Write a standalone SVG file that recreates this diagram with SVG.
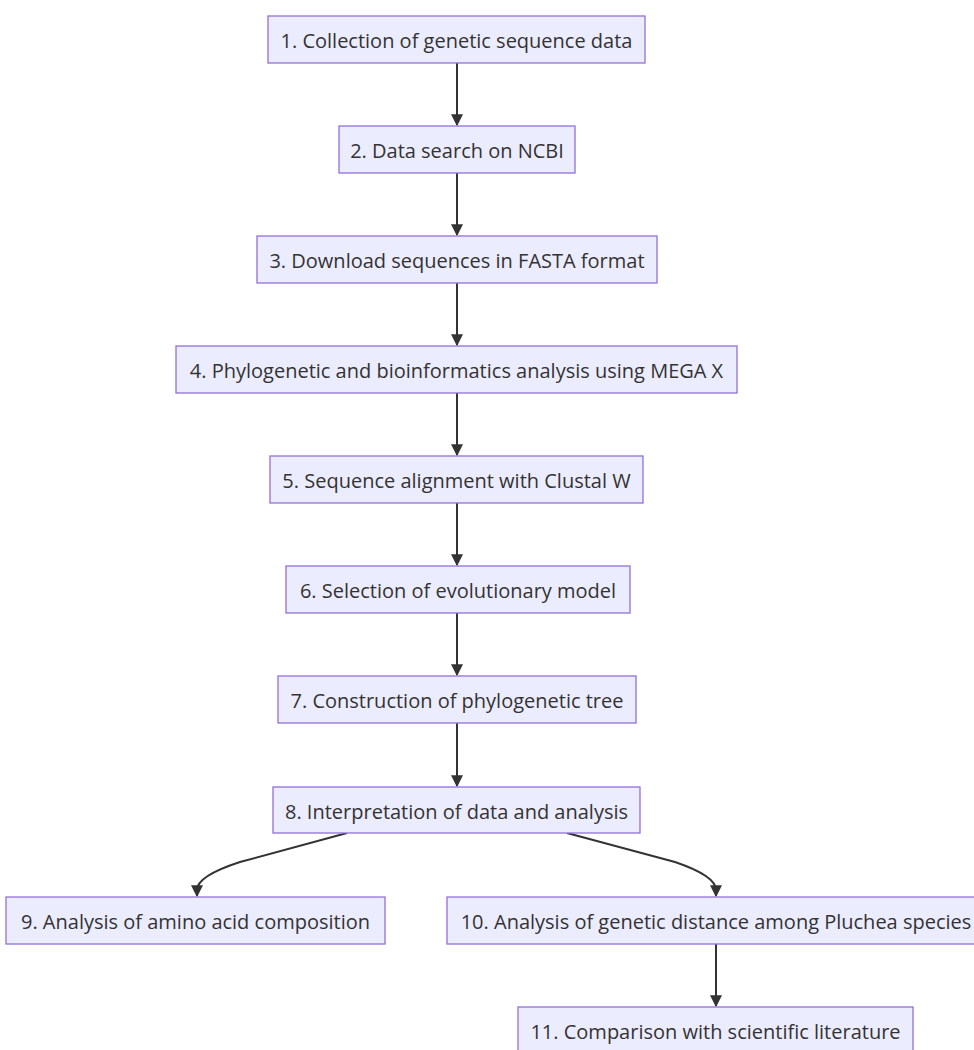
<svg xmlns="http://www.w3.org/2000/svg" width="974" height="1050" viewBox="0 0 974 1050">
<style>
.n rect{fill:#ECECFF;stroke:#9370DB;stroke-width:1.3}
.n text{font-family:"Open Sans","Noto Sans",sans-serif;font-size:20px;fill:#333;text-anchor:middle;dominant-baseline:central}
.e path{fill:none;stroke:#333;stroke-width:2}
</style>
<defs>
<marker id="ah" viewBox="0 0 10 10" refX="9" refY="5" markerWidth="12" markerHeight="12" markerUnits="userSpaceOnUse" orient="auto">
<path d="M0,0 L10,5 L0,10 z" fill="#333"/>
</marker>
</defs>
<rect width="974" height="1050" fill="#fff"/>
<g class="e">
<path d="M457,63 V125" marker-end="url(#ah)"/>
<path d="M457,173 V235" marker-end="url(#ah)"/>
<path d="M457,283 V345" marker-end="url(#ah)"/>
<path d="M457,393 V455" marker-end="url(#ah)"/>
<path d="M457,503 V565" marker-end="url(#ah)"/>
<path d="M457,613 V675" marker-end="url(#ah)"/>
<path d="M457,723 V786" marker-end="url(#ah)"/>
<path d="M347,833 L240,862 Q197,876 197,890 V896" marker-end="url(#ah)"/>
<path d="M567,833 L675,862 Q716,876 716,890 V896" marker-end="url(#ah)"/>
<path d="M716,944 V1006" marker-end="url(#ah)"/>
</g>
<g id="n1" class="n"><rect x="268" y="16" width="377" height="47"/><text x="456.5" y="40">1. Collection of genetic sequence data</text></g>
<g id="n2" class="n"><rect x="339" y="126" width="236" height="47"/><text x="457" y="150">2. Data search on NCBI</text></g>
<g id="n3" class="n"><rect x="257" y="236" width="400" height="47"/><text x="457" y="260">3. Download sequences in FASTA format</text></g>
<g id="n4" class="n"><rect x="176" y="346" width="561" height="47"/><text x="456.5" y="370">4. Phylogenetic and bioinformatics analysis using MEGA X</text></g>
<g id="n5" class="n"><rect x="270" y="456" width="373" height="47"/><text x="456.5" y="480">5. Sequence alignment with Clustal W</text></g>
<g id="n6" class="n"><rect x="286" y="566" width="344" height="47"/><text x="458" y="590">6. Selection of evolutionary model</text></g>
<g id="n7" class="n"><rect x="278" y="676" width="358" height="47"/><text x="457" y="700">7. Construction of phylogenetic tree</text></g>
<g id="n8" class="n"><rect x="273" y="787" width="367" height="46"/><text x="456.5" y="811">8. Interpretation of data and analysis</text></g>
<g id="n9" class="n"><rect x="6" y="897" width="379" height="47"/><text x="195.5" y="921">9. Analysis of amino acid composition</text></g>
<g id="n10" class="n"><rect x="447" y="897" width="540" height="47"/><text x="716" y="921">10. Analysis of genetic distance among Pluchea species</text></g>
<g id="n11" class="n"><rect x="518" y="1007" width="395" height="47"/><text x="715.5" y="1031">11. Comparison with scientific literature</text></g>
</svg>
